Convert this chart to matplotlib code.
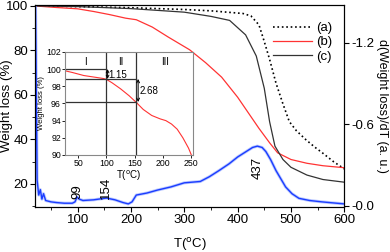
import numpy as np
import matplotlib
matplotlib.use('Agg')
import matplotlib.pyplot as plt
from matplotlib.ticker import MultipleLocator, FixedLocator

plt.rcParams['font.family'] = ['Liberation Sans', 'DejaVu Sans']

# TG curves (weight loss %)
t_a = [20, 100, 200, 300, 350, 410, 425, 440, 450, 460, 472, 485, 497, 510, 528, 545, 560, 580, 600]
w_a = [100, 99.7, 99.2, 98.4, 97.8, 96.6, 95.5, 91.5, 84, 76, 65.3, 56, 48, 44, 39.9, 36.5, 33.8, 30, 26.8]

t_b = [20, 60, 100, 130, 160, 190, 210, 240, 270, 310, 340, 370, 400, 420, 440, 460, 475, 500, 530, 560, 600]
w_b = [100, 99.3, 98.7, 97.5, 96.1, 94.5, 93.8, 90.5, 86, 80.3, 74.5, 68, 59, 52, 45, 38.5, 34, 31, 29.3, 28.2, 27.3]

t_c = [20, 100, 200, 300, 350, 385, 415, 435, 450, 460, 470, 485, 500, 530, 560, 600]
w_c = [100, 99.7, 98.8, 97.2, 95.3, 93.5, 87, 77.5, 63, 48, 37, 31, 27.5, 24, 22, 20.8]

# DTG curve
t_d = [21, 24, 27, 30, 33, 36, 40, 50, 60, 75, 90, 95, 99, 103, 110, 130, 154, 170, 185, 195, 202, 210,
       230, 250, 275, 300, 330, 347, 365, 384, 400, 416, 428, 437, 446, 453, 462, 472, 481, 490, 502, 515,
       535, 558, 580, 600]
d_d = [1.5, 0.19, 0.08, 0.12, 0.05, 0.09, 0.04, 0.03, 0.025, 0.02, 0.02, 0.03, 0.066, 0.05, 0.04, 0.045,
       0.058, 0.045, 0.025, 0.015, 0.03, 0.08, 0.095, 0.117, 0.14, 0.17, 0.18, 0.215, 0.26, 0.31, 0.36, 0.40,
       0.43, 0.44, 0.43, 0.40, 0.34, 0.26, 0.2, 0.14, 0.09, 0.056, 0.04, 0.03, 0.022, 0.015]

# inset: curve (b) zoomed
t_in = [27, 40, 60, 80, 95, 100, 110, 125, 140, 153, 165, 180, 195, 205, 215, 225, 235, 245, 250]
w_in = [99.8, 99.6, 99.25, 99.05, 98.9, 98.8, 98.4, 97.7, 96.9, 96.1, 95.3, 94.6, 94.2, 94.0, 93.6, 93.0, 92.0, 90.8, 90.0]

peaks = [99, 154, 437]
peak_y = [0.105, 0.135, 0.28]

fig = plt.figure(figsize=(3.9, 2.52), dpi=100)
ax = fig.add_axes([0.0897, 0.179, 0.793, 0.801])
ax.plot(t_a, w_a, ':', color='black', lw=1.2, label='(a)')
ax.plot(t_b, w_b, '-', color='#ff3333', lw=0.9, label='(b)')
ax.plot(t_c, w_c, '-', color='#333333', lw=0.9, label='(c)')
ax.set_xlim(20, 600)
ax.set_ylim(9.7, 100.4)
ax.xaxis.set_major_locator(FixedLocator([100, 200, 300, 400, 500, 600]))
ax.xaxis.set_minor_locator(MultipleLocator(50))
ax.yaxis.set_major_locator(FixedLocator([20, 40, 60, 80, 100]))
ax.yaxis.set_minor_locator(MultipleLocator(10))
ax.tick_params(labelsize=9.5, length=3.5, width=0.8, pad=1.5)
ax.tick_params(which='minor', length=2)
ax.set_xlabel('T($^{\\rm o}$C)', fontsize=9.5)
ax.xaxis.set_label_coords(0.5, -0.145)
ax.set_ylabel('Weight loss (%)', fontsize=9.5)
ax.yaxis.set_label_coords(-0.072, 0.5)
ax.legend(loc='upper right', bbox_to_anchor=(1.0, 0.975), frameon=False, fontsize=9.5,
          handlelength=3.0, labelspacing=0.15, handletextpad=0.3)

ax2 = ax.twinx()
ax2.plot(t_d, d_d, '-', color='#8fa6ff', lw=2.2, alpha=0.6)
ax2.plot(t_d, d_d, '-', color='#1a3cff', lw=1.0)
ax2.set_ylim(-0.007, 1.478)
ax2.yaxis.set_major_locator(FixedLocator([0.0, 0.6, 1.2]))
ax2.set_yticklabels(['-0.0', '-0.6', '-1.2'])
ax2.tick_params(labelsize=9.5, length=3.5, width=0.8, pad=1.5)
ax2.set_ylabel('d(Weight loss)/dT (a. u.)', fontsize=9, rotation=270, va='center')
ax2.yaxis.set_label_coords(1.123, 0.5)
for p, y in zip(peaks, peak_y):
    ax2.text(p, y, str(p), rotation=90, fontsize=9.5, ha='center', va='center')

# inset
axi = fig.add_axes([0.167, 0.385, 0.328, 0.409])
axi.plot(t_in, w_in, '-', color='#ff3333', lw=0.8)
axi.set_xlim(27, 253)
axi.set_ylim(90, 102)
axi.axvline(100, color='#333333', lw=0.9)
axi.axvline(153, color='#333333', lw=0.9)
axi.plot([27, 100], [100.0, 100.0], color='#333333', lw=0.9)
axi.plot([27, 153], [98.85, 98.85], color='#333333', lw=0.9)
axi.plot([27, 153], [96.17, 96.17], color='#333333', lw=0.9)
axi.annotate('', xy=(102, 98.85), xytext=(102, 100.0),
             arrowprops=dict(arrowstyle='<->', lw=0.7, color='black', shrinkA=0, shrinkB=0,
                             mutation_scale=5))
axi.annotate('', xy=(156, 96.17), xytext=(156, 98.85),
             arrowprops=dict(arrowstyle='<->', lw=0.7, color='black', shrinkA=0, shrinkB=0,
                             mutation_scale=5))
axi.text(104, 99.3, '1.15', fontsize=7, va='center')
axi.text(159, 97.5, '2.68', fontsize=7, va='center')
axi.text(63, 100.8, 'I', fontsize=7, ha='center', va='center')
axi.text(126, 100.8, 'II', fontsize=7, ha='center', va='center')
axi.text(203, 100.8, 'III', fontsize=7, ha='center', va='center')
axi.xaxis.set_major_locator(FixedLocator([50, 100, 150, 200, 250]))
axi.yaxis.set_major_locator(MultipleLocator(2))
axi.tick_params(labelsize=6.3, length=2, width=0.6, pad=1)
axi.set_xlabel('T($^{\\rm o}$C)', fontsize=7, labelpad=0)
axi.set_ylabel('Weight loss (%)', fontsize=5.5, labelpad=1)
for s in axi.spines.values():
    s.set_color('#888888')
    s.set_linewidth(0.8)

plt.savefig('out.png', dpi=100)
